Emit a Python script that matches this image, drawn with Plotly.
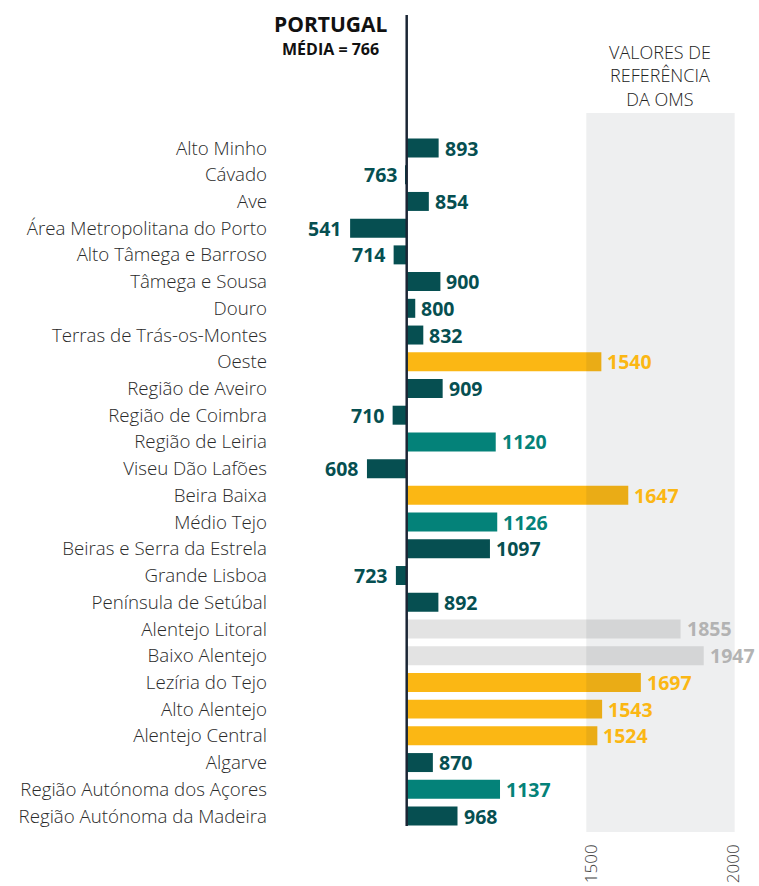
import plotly.graph_objects as go

categories = [
    "Alto Minho", "Cávado", "Ave", "Área Metropolitana do Porto",
    "Alto Tâmega e Barroso", "Tâmega e Sousa", "Douro",
    "Terras de Trás-os-Montes", "Oeste", "Região de Aveiro",
    "Região de Coimbra", "Região de Leiria", "Viseu Dão Lafões",
    "Beira Baixa", "Médio Tejo", "Beiras e Serra da Estrela",
    "Grande Lisboa", "Península de Setúbal", "Alentejo Litoral",
    "Baixo Alentejo", "Lezíria do Tejo", "Alto Alentejo",
    "Alentejo Central", "Algarve", "Região Autónoma dos Açores",
    "Região Autónoma da Madeira",
]
values = [893, 763, 854, 541, 714, 900, 800, 832, 1540, 909, 710, 1120, 608,
          1647, 1126, 1097, 723, 892, 1855, 1947, 1697, 1543, 1524, 870, 1137, 968]
groups = ["d", "d", "d", "d", "d", "d", "d", "d", "y", "d", "d", "t", "d",
          "y", "t", "d", "d", "d", "g", "g", "y", "y", "y", "d", "t", "d"]
mean_value = 766
tick_values = [1500, 2065]
tick_labels = ["1500", "2000"]
band_range = [1480, 2070]

bar_colors = {"d": "#064f51", "t": "#048279", "y": "#fbb714", "g": "#e3e3e3"}
label_colors = {"d": "#064f51", "t": "#048279", "y": "#fbb714", "g": "#b3b3b3"}

W, H = 759, 886
ML, MR, MT, MB = 274, 0, 10, 50
PW, PH = W - ML - MR, H - MT - MB
SCALE = 0.2515      # px per unit
BASE_PX = 406.7
ROW0_PX, ROW_STEP = 148, 26.72

x0 = mean_value - (BASE_PX - ML) / SCALE
x1 = x0 + PW / SCALE
ytop = -(ROW0_PX - MT) / ROW_STEP
ybot = (len(categories) - 1) + (H - MB - (ROW0_PX + ROW_STEP * (len(categories) - 1))) / ROW_STEP


def px_x(px):
    return (px - ML) / PW


def px_y(py):
    return (H - MB - py) / PH


ypos = list(range(len(categories)))

fig = go.Figure()
fig.add_trace(go.Bar(
    y=ypos,
    x=[v - mean_value for v in values],
    base=mean_value,
    orientation="h",
    width=0.71,
    marker=dict(color=[bar_colors[g] for g in groups], line=dict(width=0)),
    hoverinfo="skip",
))

annotations = []
for i, (v, g) in enumerate(zip(values, groups)):
    right = v >= mean_value
    annotations.append(dict(
        x=v, y=i, xref="x", yref="y",
        text=f"<b>{v}</b>", showarrow=False,
        xanchor="left" if right else "right",
        xshift=4 if right else -7,
        font=dict(family="Open Sans", size=19.5, color=label_colors[g]),
    ))

annotations += [
    dict(x=px_x(330), y=px_y(24), xref="paper", yref="paper", text="<b>PORTUGAL</b>",
         showarrow=False, xanchor="center", yanchor="middle",
         font=dict(family="Open Sans", size=21, color="#111111")),
    dict(x=px_x(330), y=px_y(49), xref="paper", yref="paper", text="<b>MÉDIA = 766</b>",
         showarrow=False, xanchor="center", yanchor="middle",
         font=dict(family="Open Sans", size=16, color="#111111")),
    dict(x=px_x(660), y=px_y(75), xref="paper", yref="paper",
         text="VALORES DE<br>REFERÊNCIA<br>DA OMS",
         showarrow=False, xanchor="center", yanchor="middle",
         font=dict(family="Open Sans", size=18, color="#222222", weight=300)),
]

shapes = [
    dict(type="rect", xref="x", yref="paper", x0=band_range[0], x1=band_range[1],
         y0=px_y(832), y1=px_y(113), fillcolor="rgba(30,40,60,0.075)",
         line=dict(width=0), layer="above"),
    dict(type="line", xref="x", yref="paper", x0=mean_value, x1=mean_value,
         y0=px_y(826), y1=px_y(15), line=dict(color="#1b2635", width=2.5),
         layer="above"),
]

fig.update_layout(
    width=W, height=H,
    margin=dict(l=ML, r=MR, t=MT, b=MB),
    paper_bgcolor="white", plot_bgcolor="white",
    showlegend=False,
    annotations=annotations,
    shapes=shapes,
    xaxis=dict(range=[x0, x1], tickvals=tick_values, ticktext=tick_labels,
               tickangle=-90, showgrid=False, zeroline=False, showline=False,
               ticks="", ticklabelstandoff=4, automargin=False,
               tickfont=dict(family="Open Sans", size=17, color="#444444", weight=300)),
    yaxis=dict(range=[ybot, ytop], tickvals=ypos, ticktext=categories,
               showgrid=False, zeroline=False, showline=False, ticks="",
               ticklabelstandoff=6, automargin=False,
               tickfont=dict(family="Open Sans", size=18.7, color="#2a2a2a", weight=300)),
)

fig.write_html("out.html")
